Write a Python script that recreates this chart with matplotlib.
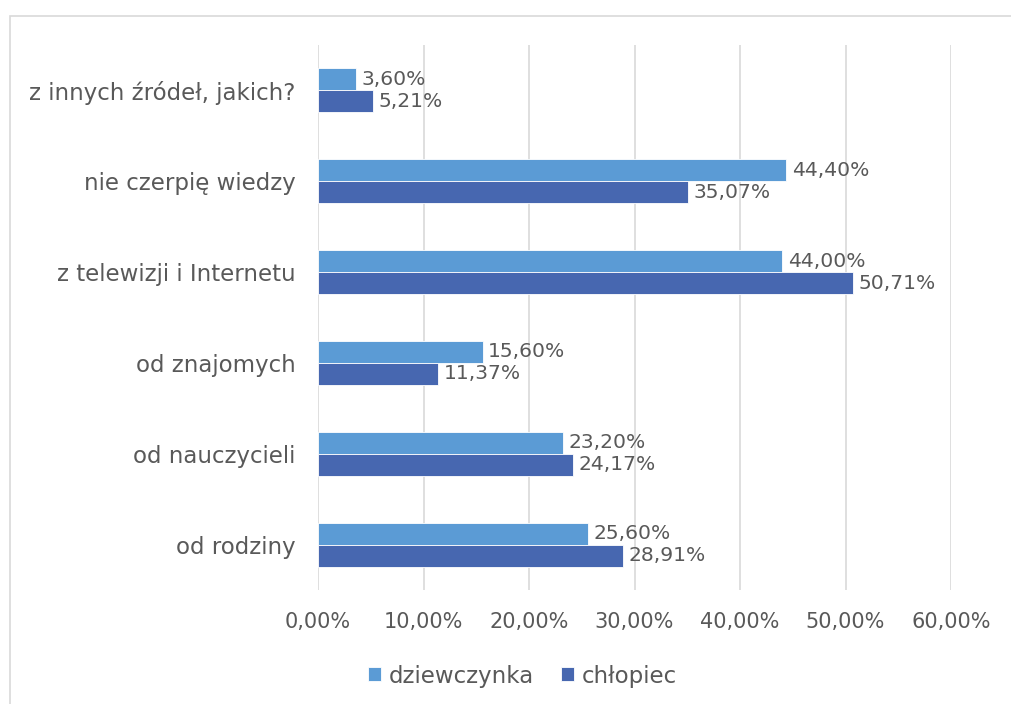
import matplotlib
matplotlib.use("Agg")
import matplotlib.pyplot as plt
from matplotlib.patches import Rectangle
import numpy as np

categories = ["od rodziny", "od nauczycieli", "od znajomych",
              "z telewizji i Internetu", "nie czerpię wiedzy", "z innych źródeł, jakich?"]
girls = [25.60, 23.20, 15.60, 44.00, 44.40, 3.60]
boys = [28.91, 24.17, 11.37, 50.71, 35.07, 5.21]
series_names = ["dziewczynka", "chłopiec"]
xticks = [0, 10, 20, 30, 40, 50, 60]

c_girl = "#5B9BD5"
c_boy = "#4767B0"
txt = "#595959"

plt.rcParams['font.family'] = ['DejaVu Sans']

W, H = 1011, 704
fig = plt.figure(figsize=(W / 100, H / 100), dpi=100)
fig.patches.append(Rectangle((10 / W, -0.1), 1.2, 1.1 - 16 / H,
                             transform=fig.transFigure, fill=False,
                             edgecolor="#D9D9D9", linewidth=1.2))

ax = fig.add_axes([318 / W, 1 - 590 / H, (951 - 318) / W, (590 - 45) / H])
y = np.arange(len(categories))
h = 0.242
b1 = ax.barh(y + h / 2, girls, height=h, color=c_girl, edgecolor="white", linewidth=0.6,
             label=series_names[0], zorder=3)
b2 = ax.barh(y - h / 2, boys, height=h, color=c_boy, edgecolor="white", linewidth=0.6,
             label=series_names[1], zorder=3)

for bars, vals in ((b1, girls), (b2, boys)):
    for bar, v in zip(bars, vals):
        ax.annotate(f"{v:.2f}%".replace(".", ","),
                    (bar.get_width(), bar.get_y() + bar.get_height() / 2),
                    xytext=(4, 0), textcoords="offset points",
                    va="center", ha="left", fontsize=14.6, color=txt)

ax.set_xlim(0, 60)
ax.set_ylim(-0.5, len(categories) - 0.5)
ax.set_xticks(xticks)
ax.set_xticklabels([f"{t:.2f}%".replace(".", ",") for t in xticks], fontsize=15, color=txt)
ax.set_yticks(y)
ax.set_yticklabels(categories, fontsize=16.5, color=txt)
ax.tick_params(length=0, pad=16, axis="x")
ax.tick_params(length=0, pad=16, axis="y")
ax.grid(axis="x", color="#D9D9D9", linewidth=1.2, zorder=0)
for s in ax.spines.values():
    s.set_visible(False)

fig.legend(handles=[b1, b2], labels=series_names, loc="center",
           bbox_to_anchor=(0.517, 1 - 676 / H), ncol=2, frameon=False,
           fontsize=16.5, labelcolor=txt, handlelength=0.55, handleheight=0.55,
           handletextpad=0.35, columnspacing=1.2)

fig.savefig("out.png", dpi=100)
